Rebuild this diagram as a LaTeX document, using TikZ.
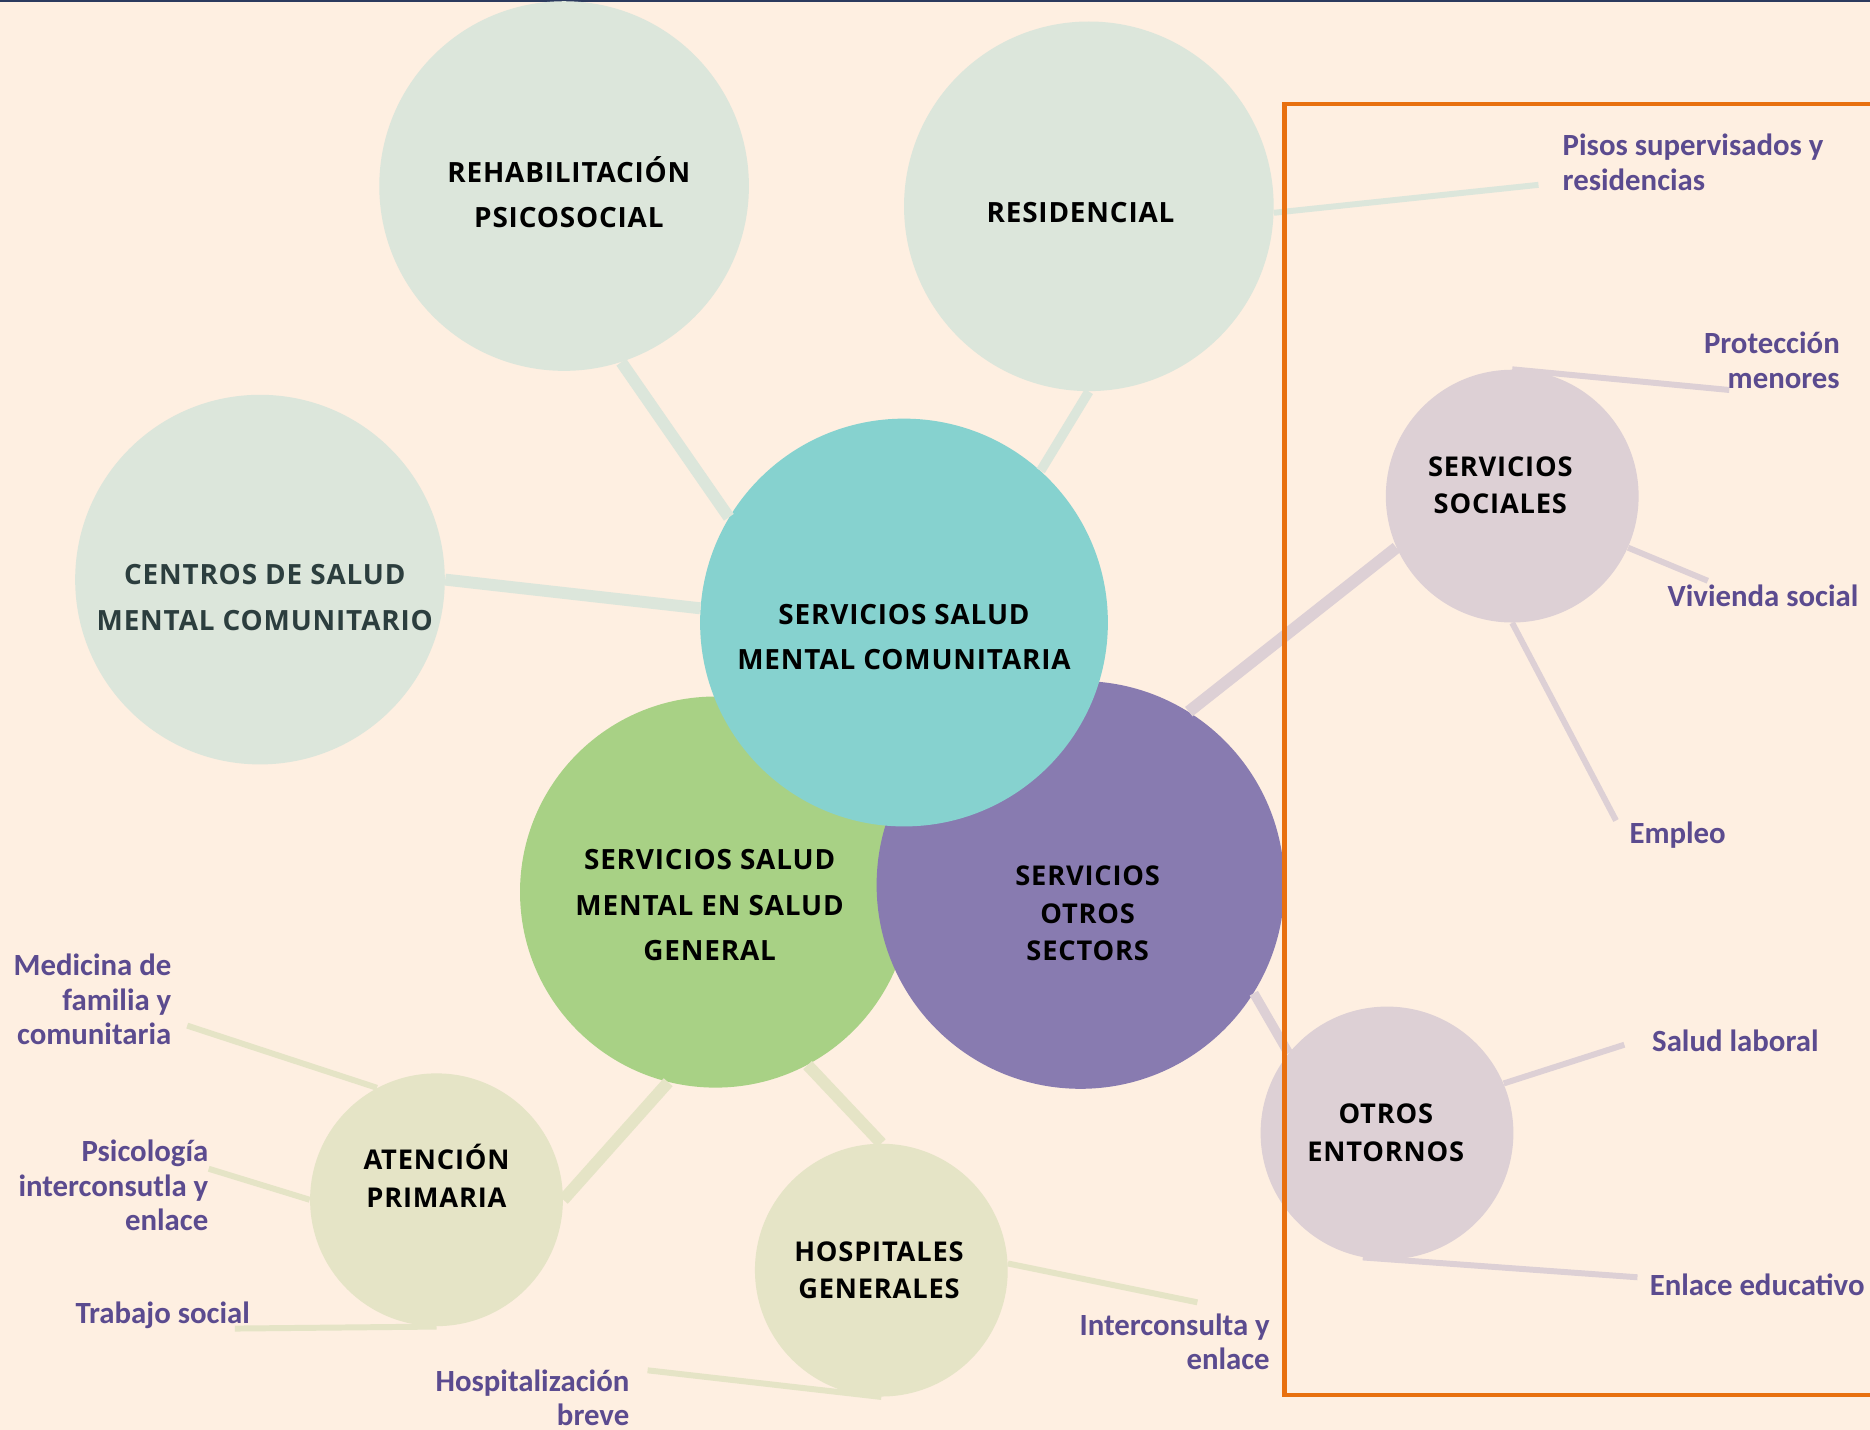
\documentclass[tikz,border=0pt]{standalone}
\usepackage{fontspec}
\newfontfamily\circfont[LetterSpace=3.0]{Open Sans}
\newfontfamily\lblfont{Carlito}
\usepackage{tikz}
\usetikzlibrary{positioning}
\definecolor{bg}{HTML}{FEEFE1}
\definecolor{sage}{HTML}{DCE6DB}
\definecolor{aqua}{HTML}{86D2CF}
\definecolor{leaf}{HTML}{A8D185}
\definecolor{lilac}{HTML}{887BB0}
\definecolor{mauve}{HTML}{DDD0D5}
\definecolor{olive}{HTML}{E5E4C6}
\definecolor{ink}{HTML}{5B4B8F}
\definecolor{slate}{HTML}{2C3E3E}
\definecolor{frame}{HTML}{E8700F}
\definecolor{navy}{HTML}{2B3A5E}

\begin{document}
\begin{tikzpicture}[x=0.02cm,y=-0.02cm,
    bubble/.style={circle,inner sep=0pt,minimum size=#1},
    ctitle/.style={font=\circfont\bfseries\fontsize{13.3}{21.6}\selectfont,align=center,text=black,inner sep=0pt},
    csmall/.style={ctitle,font=\circfont\bfseries\fontsize{13}{18}\selectfont},
    lbl/.style={font=\lblfont\bfseries\fontsize{14.7}{16.5}\selectfont,text=ink,inner sep=0pt},
    trunk/.style={line width=0.2cm},
    twig/.style={line width=0.1cm}]
    \path[use as bounding box,fill=bg] (0,0) rectangle (1568,1199);
    \clip (0,0) rectangle (1568,1199);
    \draw[navy,line width=0.04cm] (0,1) -- (1568,1);
    % circles
    \node[bubble=6.2cm,fill=sage] (rehab) at (473,156) {};
    \node[bubble=6.2cm,fill=sage] (resid) at (913,173) {};
    \node[bubble=6.2cm,fill=sage] (csm) at (218,486) {};
    \node[bubble=6.56cm,fill=leaf] (smg) at (600,748) {};
    \node[bubble=6.84cm,fill=lilac] (sos) at (906,742) {};
    \node[bubble=6.84cm,fill=aqua] (smc) at (758,522) {};
    \node[bubble=4.24cm,fill=mauve] (ss) at (1268,416) {};
    \node[bubble=4.24cm,fill=mauve] (oe) at (1163,950) {};
    \node[bubble=4.24cm,fill=olive] (ap) at (366,1006) {};
    \node[bubble=4.24cm,fill=olive] (hg) at (739,1065) {};
    % trunks
    \draw[trunk,sage] (rehab.-72) -- (smc.149);
    \draw[trunk,sage,line width=0.16cm] (resid.-90) -- (smc.48);
    \draw[trunk,sage] (csm.0) -- (smc.176);
    \draw[trunk,mauve] (sos.58) -- (ss.204);
    \draw[trunk,mauve,line width=0.16cm] (sos.-32) -- (oe.141);
    \draw[trunk,olive] (smg.-104) -- (ap.0);
    \draw[trunk,olive] (smg.-62) -- (hg.90);
    % leaves
    \coordinate (pisosend) at (1290,155);
    \coordinate (protecend) at (1450,327);
    \coordinate (viviend) at (1432,487);
    \coordinate (empleoend) at (1355,688);
    \coordinate (laboralend) at (1362,876);
    \coordinate (educend) at (1373,1071);
    \coordinate (mfycend) at (157,860);
    \coordinate (psicoend) at (175,980);
    \coordinate (tsocend) at (197,1114);
    \coordinate (icend) at (1004,1092);
    \coordinate (hbend) at (543,1149);
    \foreach \c/\a/\e/\col in {resid/-2/pisosend/sage, ss/90/protecend/mauve, ss/-24/viviend/mauve,
        ss/-90/empleoend/mauve, oe/23/laboralend/mauve, oe/-101/educend/mauve,
        ap/118/mfycend/olive, ap/180/psicoend/olive, ap/-90/tsocend/olive,
        hg/3/icend/olive, hg/-90/hbend/olive}
        \draw[twig,\col] (\c.\a) -- (\e);
    % titles
    \node[ctitle] (rehabtxt) at (477,161) {REHABILITACIÓN\\PSICOSOCIAL};
    \node[ctitle] (residtxt) at (906,178) {RESIDENCIAL};
    \node[ctitle,text=slate] (csmtxt) at (222,501) {CENTROS DE SALUD\\MENTAL COMUNITARIO};
    \node[ctitle] (smctxt) at (758,534) {SERVICIOS SALUD\\MENTAL COMUNITARIA};
    \node[ctitle] (smgtxt) at (595,759) {SERVICIOS SALUD\\MENTAL EN SALUD\\GENERAL};
    \node[csmall] (sostxt) at (912,766) {SERVICIOS\\OTROS\\SECTORS};
    \node[csmall] (sstxt) at (1258,407) {SERVICIOS\\SOCIALES};
    \node[csmall] (oetxt) at (1162,950) {OTROS\\ENTORNOS};
    \node[csmall] (aptxt) at (366,986) {ATENCIÓN\\PRIMARIA};
    \node[csmall] (hgtxt) at (737,1065) {HOSPITALES\\GENERALES};
    % labels
    \node[lbl,anchor=west,align=left] (pisos) at (1310,136) {Pisos supervisados y\\residencias};
    \node[lbl,anchor=east,align=right] (protec) at (1543,302) {Protección\\menores};
    \node[lbl,anchor=west] (vivienda) at (1398,500) {Vivienda social};
    \node[lbl,anchor=west] (empleo) at (1366,700) {Empleo};
    \node[lbl,anchor=west] (laboral) at (1385,873) {Salud laboral};
    \node[lbl,anchor=west] (educ) at (1383,1077) {Enlace educativo};
    \node[lbl,anchor=east,align=right] (icons) at (1065,1125) {Interconsulta y\\enlace};
    \node[lbl,anchor=east,align=right] (hbreve) at (528,1172) {Hospitalización\\breve};
    \node[lbl,anchor=west] (tsoc) at (63,1103) {Trabajo social};
    \node[lbl,anchor=east,align=right] (psico) at (175,994) {Psicología\\interconsutla y\\enlace};
    \node[lbl,anchor=east,align=right] (mfyc) at (144,838) {Medicina de\\familia y\\comunitaria};
    % frame
    \draw[frame,line width=0.07cm] (1077,87) rectangle (1620,1170);
\end{tikzpicture}
\end{document}
